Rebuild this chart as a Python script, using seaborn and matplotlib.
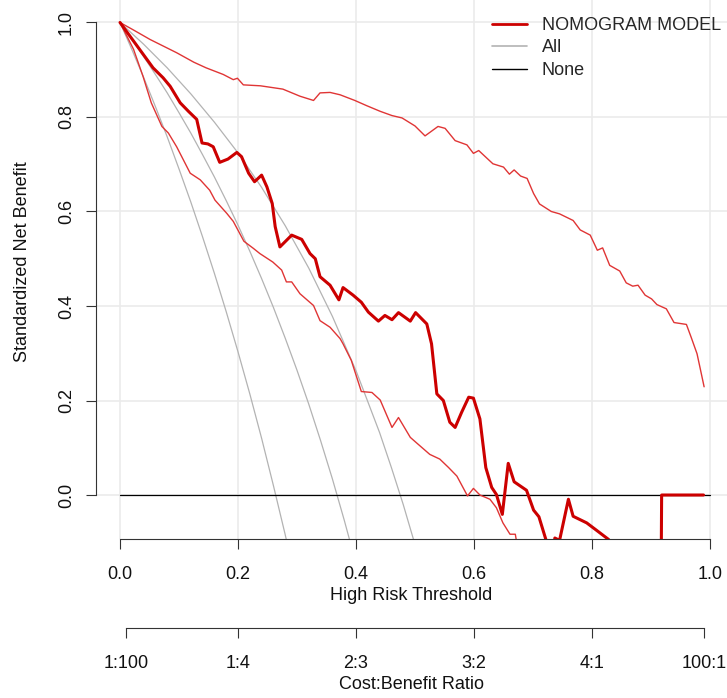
import matplotlib
matplotlib.use("Agg")
import matplotlib.pyplot as plt
import seaborn as sns
from matplotlib.lines import Line2D

# "All" curves (treat-all strategy, point estimate and CI bounds)
all_a_x = [0, 0.02, 0.04, 0.06, 0.08, 0.10, 0.12, 0.14, 0.16, 0.18, 0.20, 0.22, 0.24, 0.26, 0.28, 0.29]
all_a_y = [1, 0.943, 0.884, 0.822, 0.758, 0.690, 0.620, 0.546, 0.469, 0.388, 0.303, 0.214, 0.120, 0.020, -0.084, -0.139]
all_b_x = [0, 0.02, 0.04, 0.06, 0.08, 0.10, 0.12, 0.14, 0.16, 0.18, 0.20, 0.22, 0.24, 0.26, 0.28, 0.30,
           0.32, 0.34, 0.36, 0.38, 0.40]
all_b_y = [1, 0.965, 0.928, 0.890, 0.851, 0.809, 0.766, 0.720, 0.673, 0.623, 0.571, 0.516, 0.458, 0.397,
           0.332, 0.264, 0.192, 0.115, 0.034, -0.053, -0.145]
all_c_x = [0, 0.04, 0.08, 0.12, 0.16, 0.20, 0.24, 0.28, 0.32, 0.36, 0.40, 0.44, 0.46, 0.48, 0.50]
all_c_y = [1, 0.954, 0.904, 0.849, 0.789, 0.724, 0.651, 0.570, 0.480, 0.378, 0.263, 0.132, 0.058, -0.020, -0.105]

# nomogram model
model_x = [0, 0.056, 0.073, 0.085, 0.102, 0.116, 0.130, 0.139, 0.149, 0.158, 0.169, 0.183, 0.198, 0.206,
           0.218, 0.228, 0.240, 0.249, 0.258, 0.263, 0.271, 0.291, 0.308, 0.322, 0.331, 0.339, 0.356,
           0.371, 0.378, 0.395, 0.409, 0.421, 0.438, 0.449, 0.461, 0.472, 0.492, 0.501, 0.520, 0.528,
           0.537, 0.548, 0.559, 0.568, 0.579, 0.591, 0.599, 0.610, 0.620, 0.630, 0.638, 0.648, 0.658,
           0.668, 0.689, 0.701, 0.710, 0.722, 0.728, 0.734, 0.737, 0.745, 0.760, 0.768, 0.791, 0.808,
           0.828, 0.845, 0.914, 0.917, 0.918, 0.989]
model_y = [1.0, 0.904, 0.883, 0.865, 0.830, 0.812, 0.795, 0.745, 0.743, 0.737, 0.704, 0.711, 0.725, 0.716,
           0.681, 0.663, 0.677, 0.652, 0.617, 0.568, 0.525, 0.550, 0.541, 0.511, 0.500, 0.462, 0.444,
           0.413, 0.439, 0.423, 0.408, 0.387, 0.368, 0.380, 0.371, 0.386, 0.368, 0.386, 0.362, 0.320,
           0.214, 0.200, 0.154, 0.143, 0.175, 0.207, 0.205, 0.161, 0.058, 0.016, 0.001, -0.041, 0.067,
           0.028, 0.010, -0.032, -0.046, -0.095, -0.13, -0.13, -0.091, -0.096, -0.009, -0.045, -0.059, -0.075,
           -0.094, -0.13, -0.2, -0.2, 0.0, 0.0]

# model confidence band
upper_x = [0, 0.023, 0.051, 0.096, 0.125, 0.146, 0.175, 0.192, 0.199, 0.209, 0.238, 0.276, 0.305, 0.328,
           0.339, 0.356, 0.373, 0.398, 0.418, 0.441, 0.461, 0.478, 0.500, 0.517, 0.539, 0.551, 0.568,
           0.588, 0.599, 0.608, 0.632, 0.650, 0.660, 0.668, 0.679, 0.690, 0.701, 0.711, 0.731, 0.745,
           0.768, 0.780, 0.797, 0.809, 0.818, 0.830, 0.847, 0.858, 0.869, 0.878, 0.890, 0.901, 0.910,
           0.926, 0.939, 0.960, 0.968, 0.978, 0.983, 0.990]
upper_y = [1.0, 0.984, 0.964, 0.936, 0.916, 0.904, 0.890, 0.879, 0.882, 0.868, 0.866, 0.859, 0.844, 0.835,
           0.851, 0.852, 0.847, 0.835, 0.824, 0.812, 0.803, 0.798, 0.781, 0.760, 0.780, 0.776, 0.750,
           0.741, 0.723, 0.729, 0.701, 0.694, 0.679, 0.688, 0.675, 0.670, 0.638, 0.616, 0.600, 0.595,
           0.581, 0.561, 0.550, 0.518, 0.523, 0.486, 0.474, 0.449, 0.442, 0.444, 0.423, 0.415, 0.403,
           0.394, 0.365, 0.361, 0.334, 0.299, 0.270, 0.229]
lower_x = [0, 0.023, 0.039, 0.053, 0.071, 0.082, 0.096, 0.119, 0.136, 0.152, 0.161, 0.181, 0.192, 0.210,
           0.226, 0.237, 0.259, 0.274, 0.282, 0.291, 0.305, 0.328, 0.339, 0.356, 0.373, 0.378, 0.392,
           0.409, 0.427, 0.441, 0.461, 0.472, 0.492, 0.502, 0.525, 0.542, 0.557, 0.571, 0.589, 0.599,
           0.610, 0.627, 0.638, 0.649, 0.661, 0.670, 0.672, 0.685]
lower_y = [1.0, 0.943, 0.886, 0.830, 0.780, 0.766, 0.737, 0.681, 0.667, 0.645, 0.624, 0.596, 0.579, 0.537,
           0.522, 0.511, 0.493, 0.476, 0.451, 0.451, 0.426, 0.401, 0.369, 0.355, 0.331, 0.320, 0.285,
           0.219, 0.217, 0.201, 0.143, 0.164, 0.122, 0.111, 0.086, 0.076, 0.058, 0.040, -0.002, 0.014,
           0.000, -0.009, -0.027, -0.059, -0.083, -0.083, -0.098, -0.15]

none_x = [0, 1]
none_y = [0, 0]

x_ticks = [0.0, 0.2, 0.4, 0.6, 0.8, 1.0]
y_ticks = [0.0, 0.2, 0.4, 0.6, 0.8, 1.0]
cb_ticks = [0.01, 0.2, 0.4, 0.6, 0.8, 0.99]
cb_labels = ["1:100", "1:4", "2:3", "3:2", "4:1", "100:1"]

sns.set_style("white")
plt.rcParams["font.family"] = ["Liberation Sans", "DejaVu Sans"]
fs = 13
red = "#cc0000"
grey = "#b3b3b3"
axcol = "#333333"

fig = plt.figure(figsize=(7.27, 6.98), dpi=100)
ax = fig.add_axes([96 / 727, 159 / 698, 631 / 727, 539 / 698])

for v in x_ticks:
    ax.axvline(v, color="#ebebeb", lw=1.2, zorder=0)
for v in y_ticks:
    ax.axhline(v, color="#ebebeb", lw=1.2, zorder=0)

for xs, ys in [(all_a_x, all_a_y), (all_b_x, all_b_y), (all_c_x, all_c_y)]:
    sns.lineplot(x=xs, y=ys, ax=ax, color=grey, lw=0.9, estimator=None, sort=False)
sns.lineplot(x=none_x, y=none_y, ax=ax, color="black", lw=0.9, estimator=None, sort=False)
sns.lineplot(x=upper_x, y=upper_y, ax=ax, color="#e03535", lw=1.0, estimator=None, sort=False)
sns.lineplot(x=lower_x, y=lower_y, ax=ax, color="#e03535", lw=1.0, estimator=None, sort=False)
sns.lineplot(x=model_x, y=model_y, ax=ax, color=red, lw=2.2, estimator=None, sort=False)

ax.set_xlim(-0.0407, 1.0288)
ax.set_ylim(-0.0931, 1.0476)
for s in ["top", "right"]:
    ax.spines[s].set_visible(False)
for s in ["left", "bottom"]:
    ax.spines[s].set_color(axcol)
    ax.spines[s].set_linewidth(0.8)
    ax.spines[s].set_bounds(0, 1)
ax.set_xticks(x_ticks)
ax.set_yticks(y_ticks)
ax.set_xticklabels([f"{v:.1f}" for v in x_ticks])
ax.set_yticklabels([f"{v:.1f}" for v in y_ticks])
ax.tick_params(axis="both", direction="out", length=7.2, width=0.8, color=axcol,
               labelsize=fs, labelcolor="#111111", bottom=True, left=True)
ax.tick_params(axis="x", pad=12)
ax.tick_params(axis="y", pad=8)
for lbl in ax.get_yticklabels():
    lbl.set_rotation(90)
    lbl.set_va("center")
ax.set_xlabel("High Risk Threshold", fontsize=fs, color="#111111", labelpad=3)
ax.set_ylabel("Standardized Net Benefit", fontsize=fs, color="#111111")
ax.yaxis.set_label_coords(-0.103, 0.514)

handles = [Line2D([], [], color=red, lw=2.0), Line2D([], [], color=grey, lw=1.2),
           Line2D([], [], color="black", lw=1.0)]
fig.legend(handles, ["NOMOGRAM MODEL", "All", "None"], loc="upper left",
           bbox_to_anchor=(492 / 727, 1 - 17 / 698), frameon=False, fontsize=fs,
           borderpad=0, borderaxespad=0, handlelength=1.95, handletextpad=0.8,
           labelspacing=0.3)

# cost:benefit axis
ax2 = fig.add_axes([96 / 727, 70 / 698, 631 / 727, 0.0001])
ax2.set_xlim(ax.get_xlim())
ax2.set_yticks([])
for s in ["top", "right", "left"]:
    ax2.spines[s].set_visible(False)
ax2.spines["bottom"].set_color(axcol)
ax2.spines["bottom"].set_linewidth(0.8)
ax2.spines["bottom"].set_bounds(0.01, 0.99)
ax2.patch.set_alpha(0)
ax2.set_xticks(cb_ticks)
ax2.set_xticklabels(cb_labels)
ax2.tick_params(axis="x", direction="out", length=7.2, width=0.8, color=axcol,
                labelsize=fs, labelcolor="#111111", pad=12, bottom=True)
ax2.set_xlabel("Cost:Benefit Ratio", fontsize=fs, color="#111111", labelpad=3)

fig.savefig("out.png", dpi=100)
